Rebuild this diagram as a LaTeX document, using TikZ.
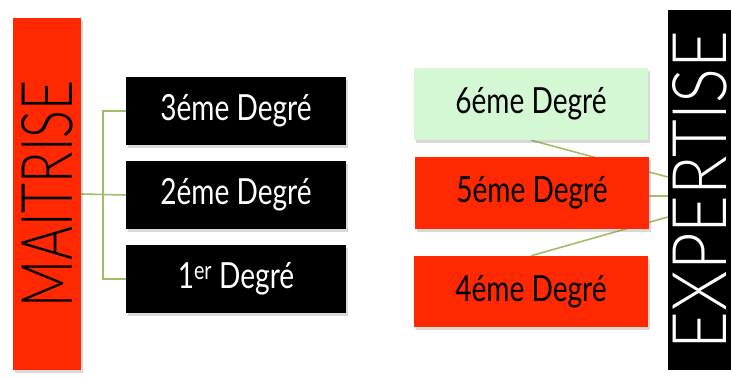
\documentclass[tikz,border=0pt]{standalone}
\usepackage{fontspec}
\setmainfont{Lato}
\newfontfamily\thinfont{Lato Light}
\usetikzlibrary{shadows,backgrounds}
\definecolor{tred}{RGB}{255,40,0}
\definecolor{tgreen}{RGB}{212,248,212}
\definecolor{tline}{RGB}{160,190,100}
\begin{document}
\begin{tikzpicture}[x=1pt,y=-1pt,
  box/.style={rectangle, inner sep=0pt, minimum width=220pt, minimum height=68pt,
    drop shadow={shadow xshift=2pt,shadow yshift=-3pt,opacity=0.3}},
  lbl/.style={font=\fontsize{36}{40}\selectfont},
  conn/.style={draw=tline, line width=1.6pt}]
\useasboundingbox (0,0) rectangle (731,379);
\node[box, fill=tred, minimum width=68pt, minimum height=352pt] (maitrise) at (47,194)
  {\rotatebox{90}{\resizebox{227pt}{51pt}{\thinfont MAITRISE}}};
\node[rectangle, inner sep=0pt, fill=black, minimum width=63pt, minimum height=360pt] (expertise) at (699.5,190)
  {\rotatebox{90}{\resizebox{318pt}{54pt}{\thinfont\color{white}EXPERTISE}}};
\node[box, fill=black, text=white, lbl] (d3) at (236,111) {\scalebox{0.78}[1]{3éme Degré}};
\node[box, fill=black, text=white, lbl] (d2) at (236,195) {\scalebox{0.78}[1]{2éme Degré}};
\node[box, fill=black, text=white, lbl] (d1) at (236,279) {\scalebox{0.78}[1]{1\textsuperscript{er} Degré}};
\node[box, fill=tgreen, text=black, lbl, minimum width=234pt, minimum height=72pt] (d6) at (531,104) {\scalebox{0.78}[1]{6éme Degré}};
\node[box, fill=tred, text=black, lbl, minimum width=234pt, minimum height=72pt] (d5) at (532,193) {\scalebox{0.78}[1]{5éme Degré}};
\node[box, fill=tred, text=black, lbl, minimum width=234pt, minimum height=71pt] (d4) at (531,291.5) {\scalebox{0.78}[1]{4éme Degré}};
\coordinate (j) at (103,194);
\coordinate (e1) at (expertise.west |- 0,177);
\coordinate (e2) at (expertise.west |- 0,196);
\coordinate (e3) at (expertise.west |- 0,217);
\begin{scope}[on background layer]
\draw[conn] (maitrise.east) -- (d2.west);
\draw[conn] (d3.west) -| (j) |- (d1.west);
\draw[conn] (d6.south) -- (e1);
\draw[conn] (d5.east |- e2) -- (e2);
\draw[conn] (d4.north) -- (e3);
\end{scope}
\end{tikzpicture}
\end{document}
